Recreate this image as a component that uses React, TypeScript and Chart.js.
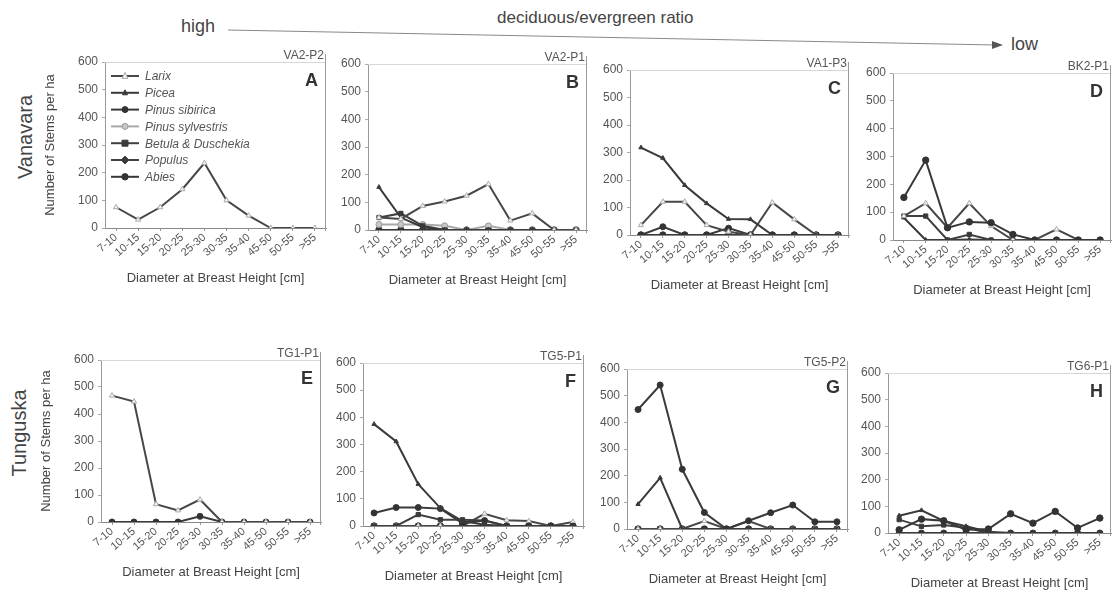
import React, { useEffect, useRef } from 'react';
import { Chart, registerables } from 'chart.js';
Chart.register(...registerables);

const FONT = '"Liberation Sans", Arial, sans-serif';

const categories = ['7-10', '10-15', '15-20', '20-25', '25-30', '30-35', '35-40', '45-50', '50-55', '>55'];
const speciesNames = ['Larix', 'Picea', 'Pinus sibirica', 'Pinus sylvestris', 'Betula & Duschekia', 'Populus', 'Abies'];
const yTicks = [0, 100, 200, 300, 400, 500, 600];

// A: VA2-P2
const aLarix = [75, 30, 75, 140, 235, 100, 45, 0, 0, 0];
// B: VA2-P1
const bLarix = [45, 40, 87, 103, 124, 166, 34, 60, 0, 0];
const bPicea = [155, 45, 10, 0, 0, 0, 0, 0, 0, 0];
const bBetula = [45, 60, 15, 0, 0, 0, 0, 0, 0, 0];
const bSylvestris = [20, 20, 20, 15, 0, 15, 0, 0, 0, 0];
const bAbies = [0, 0, 0, 0, 0, 0, 0, 0, 0, 0];
// C: VA1-P3
const cPicea = [318, 280, 181, 115, 58, 57, 0, 0, 0, 0];
const cLarix = [36, 121, 121, 36, 12, 0, 118, 57, 0, 0];
const cSibirica = [0, 30, 0, 0, 25, 0, 0, 0, 0, 0];
const cAbies = [0, 0, 0, 0, 0, 0, 0, 0, 0, 0];
// D: BK2-P1
const dAbies = [153, 287, 44, 65, 62, 20, 0, 0, 0, 0];
const dLarix = [86, 132, 44, 132, 50, 0, 0, 38, 0, 0];
const dBetula = [86, 86, 0, 20, 0, 0, 0, 0, 0, 0];
const dPicea = [80, 0, 0, 2, 0, 0, 0, 0, 0, 0];
// E: TG1-P1
const eLarix = [468, 446, 66, 43, 83, 0, 0, 0, 0, 0];
const eSibirica = [0, 0, 0, 0, 21, 0, 0, 0, 0, 0];
// F: TG5-P1
const fPicea = [375, 311, 154, 66, 18, 5, 0, 0, 0, 0];
const fSibirica = [48, 68, 68, 64, 10, 20, 0, 0, 0, 0];
const fBetula = [0, 0, 42, 23, 23, 20, 0, 0, 0, 0];
const fLarix = [0, 0, 0, 0, 0, 45, 21, 18, 0, 15];
const fAbies = [0, 0, 0, 0, 0, 0, 0, 0, 0, 0];
// G: TG5-P2
const gSibirica = [448, 540, 224, 62, 0, 31, 61, 90, 27, 27];
const gPicea = [93, 192, 0, 0, 0, 0, 0, 0, 0, 0];
const gLarix = [0, 0, 0, 30, 0, 30, 0, 0, 0, 0];
const gAbies = [0, 0, 0, 0, 0, 0, 0, 0, 0, 0];
// H: TG6-P1
const hAbies = [12, 52, 46, 12, 15, 72, 37, 81, 19, 56];
const hPicea = [65, 85, 45, 25, 5, 0, 0, 0, 0, 0];
const hBetula = [50, 25, 30, 20, 0, 0, 0, 0, 0, 0];
const hSibirica = [0, 0, 0, 0, 0, 0, 0, 0, 0, 0];

type Sty = { line: string; fill: string; stroke: string; shape: string; r: number };
const styles: Record<string, Sty> = {
  'Larix': { line: '#474747', fill: '#f4f4f4', stroke: '#aaa', shape: 'triangle', r: 3 },
  'Picea': { line: '#3a3a3a', fill: '#3a3a3a', stroke: '#3a3a3a', shape: 'triangle', r: 2.5 },
  'Pinus sibirica': { line: '#3a3a3a', fill: '#333', stroke: '#333', shape: 'circle', r: 3 },
  'Pinus sylvestris': { line: '#a8a8a8', fill: '#c8c8c8', stroke: '#999', shape: 'circle', r: 3 },
  'Betula & Duschekia': { line: '#404040', fill: '#3a3a3a', stroke: '#3a3a3a', shape: 'rect', r: 3 },
  'Populus': { line: '#404040', fill: '#3a3a3a', stroke: '#3a3a3a', shape: 'rectRot', r: 3 },
  'Abies': { line: '#383838', fill: '#333', stroke: '#333', shape: 'circle', r: 3.2 },
};

type PanelCfg = {
  id: string; letter: string; L: number; R: number; T: number; B: number;
  yTitle: boolean; legend: boolean; series: [string, number[]][];
};

const panels: PanelCfg[] = [
  { id: 'VA2-P2', letter: 'A', L: 105, R: 327, T: 62, B: 228, yTitle: true, legend: true, series: [['Larix', aLarix]] },
  { id: 'VA2-P1', letter: 'B', L: 368, R: 588, T: 64, B: 230, yTitle: false, legend: false,
    series: [['Larix', bLarix], ['Picea', bPicea], ['Betula & Duschekia', bBetula], ['Pinus sylvestris', bSylvestris], ['Abies', bAbies]] },
  { id: 'VA1-P3', letter: 'C', L: 630, R: 850, T: 70, B: 235, yTitle: false, legend: false,
    series: [['Picea', cPicea], ['Larix', cLarix], ['Pinus sibirica', cSibirica], ['Abies', cAbies]] },
  { id: 'BK2-P1', letter: 'D', L: 893, R: 1112, T: 73, B: 240, yTitle: false, legend: false,
    series: [['Abies', dAbies], ['Larix', dLarix], ['Betula & Duschekia', dBetula], ['Picea', dPicea]] },
  { id: 'TG1-P1', letter: 'E', L: 101, R: 322, T: 360, B: 522, yTitle: true, legend: false,
    series: [['Larix', eLarix], ['Pinus sibirica', eSibirica]] },
  { id: 'TG5-P1', letter: 'F', L: 363, R: 585, T: 363, B: 526, yTitle: false, legend: false,
    series: [['Picea', fPicea], ['Pinus sibirica', fSibirica], ['Betula & Duschekia', fBetula], ['Larix', fLarix], ['Abies', fAbies]] },
  { id: 'TG5-P2', letter: 'G', L: 627, R: 849, T: 369, B: 529, yTitle: false, legend: false,
    series: [['Pinus sibirica', gSibirica], ['Picea', gPicea], ['Larix', gLarix], ['Abies', gAbies]] },
  { id: 'TG6-P1', letter: 'H', L: 888, R: 1112, T: 373, B: 533, yTitle: false, legend: false,
    series: [['Abies', hAbies], ['Picea', hPicea], ['Betula & Duschekia', hBetula], ['Pinus sibirica', hSibirica]] },
];

function drawMarker(ctx: CanvasRenderingContext2D, s: Sty, x: number, y: number) {
  const r = s.r;
  ctx.save();
  ctx.fillStyle = s.fill;
  ctx.strokeStyle = s.stroke;
  ctx.lineWidth = 1;
  ctx.beginPath();
  if (s.shape === 'circle') ctx.arc(x, y, r, 0, Math.PI * 2);
  else if (s.shape === 'triangle') { ctx.moveTo(x, y - r * 1.2); ctx.lineTo(x + r, y + r * 0.8); ctx.lineTo(x - r, y + r * 0.8); ctx.closePath(); }
  else if (s.shape === 'rect') ctx.rect(x - r, y - r, 2 * r, 2 * r);
  else { ctx.moveTo(x, y - r * 1.3); ctx.lineTo(x + r * 1.3, y); ctx.lineTo(x, y + r * 1.3); ctx.lineTo(x - r * 1.3, y); ctx.closePath(); }
  ctx.fill();
  ctx.stroke();
  ctx.restore();
}

function Panel({ cfg }: { cfg: PanelCfg }) {
  const ref = useRef<HTMLCanvasElement>(null);
  const padTop = 18;
  const xH = 60;
  const yW = cfg.yTitle ? 62 : 35;
  const padRight = 4;
  const width = yW + (cfg.R - cfg.L) + padRight;
  const height = padTop + (cfg.B - cfg.T) + xH;

  useEffect(() => {
    if (!ref.current) return;
    const deco = {
      id: 'deco' + cfg.letter,
      beforeDatasetsDraw(chart: any) {
        const { ctx, chartArea: ca } = chart;
        ctx.save();
        ctx.strokeStyle = '#d6d6d6';
        ctx.lineWidth = 1;
        ctx.beginPath();
        ctx.moveTo(ca.left, ca.top + 0.5);
        ctx.lineTo(ca.right, ca.top + 0.5);
        ctx.stroke();
        ctx.strokeStyle = '#9a9a9a';
        ctx.beginPath();
        ctx.moveTo(ca.right - 0.5, ca.top - 8);
        ctx.lineTo(ca.right - 0.5, ca.bottom + 3);
        ctx.stroke();
        ctx.restore();
      },
      afterDraw(chart: any) {
        const { ctx, chartArea: ca } = chart;
        ctx.save();
        ctx.fillStyle = '#555';
        ctx.font = '12px ' + FONT;
        ctx.textAlign = 'right';
        ctx.textBaseline = 'alphabetic';
        ctx.fillText(cfg.id, ca.right - 2, ca.top - 3);
        ctx.fillStyle = '#333';
        ctx.font = 'bold 18px ' + FONT;
        ctx.fillText(cfg.letter, ca.right - 8, ca.top + 24);
        if (cfg.legend) {
          let y = ca.top + 14;
          const x0 = ca.left + 6;
          ctx.textAlign = 'left';
          ctx.textBaseline = 'middle';
          ctx.font = 'italic 12px ' + FONT;
          for (const name of speciesNames) {
            const s = styles[name];
            ctx.strokeStyle = s.line;
            ctx.lineWidth = 2;
            ctx.beginPath();
            ctx.moveTo(x0, y);
            ctx.lineTo(x0 + 28, y);
            ctx.stroke();
            drawMarker(ctx, s, x0 + 14, y);
            ctx.fillStyle = '#555';
            ctx.fillText(name, x0 + 34, y + 1);
            y += 16.8;
          }
        }
        ctx.restore();
      },
    };
    const chart = new Chart(ref.current, {
      type: 'line',
      data: {
        labels: categories,
        datasets: cfg.series.map(([name, values]) => {
          const s = styles[name];
          return {
            label: name,
            data: values,
            borderColor: s.line,
            borderWidth: 2,
            pointStyle: s.shape as any,
            pointRadius: s.r,
            pointBackgroundColor: s.fill,
            pointBorderColor: s.stroke,
            pointBorderWidth: 1,
            tension: 0,
            fill: false,
          };
        }),
      },
      options: {
        responsive: false,
        animation: false,
        events: [],
        layout: { padding: { top: padTop, right: padRight, left: 0, bottom: 0 } },
        plugins: { legend: { display: false }, tooltip: { enabled: false } },
        scales: {
          x: {
            offset: true,
            border: { color: '#888', width: 1 },
            grid: { display: true, drawOnChartArea: false, drawTicks: true, tickLength: 3, color: '#999' },
            ticks: { autoSkip: false, minRotation: 40, maxRotation: 40, padding: 0, color: '#555', font: { family: FONT, size: 11 } },
            title: { display: true, text: 'Diameter at Breast Height [cm]', color: '#444', font: { family: FONT, size: 13 }, padding: { top: 0, bottom: 2 } },
            afterFit: (sc: any) => { sc.height = xH; },
          },
          y: {
            min: 0,
            max: 600,
            afterBuildTicks: (sc: any) => { sc.ticks = yTicks.map((v) => ({ value: v })); },
            border: { color: '#999', width: 1 },
            grid: { display: true, drawOnChartArea: false, drawTicks: true, tickLength: 3, color: '#aaa' },
            ticks: { padding: 4, color: '#555', font: { family: FONT, size: 12 } },
            title: { display: cfg.yTitle, text: 'Number of Stems per ha', color: '#444', font: { family: FONT, size: 13 }, padding: 0 },
            afterFit: (sc: any) => { sc.width = yW; },
          },
        },
      },
      plugins: [deco],
    });
    return () => chart.destroy();
  }, []);

  return (
    <canvas
      ref={ref}
      width={width}
      height={height}
      style={{ position: 'absolute', left: cfg.L - yW, top: cfg.T - padTop, width, height }}
    />
  );
}

export default function App() {
  const text: React.CSSProperties = { position: 'absolute', fontFamily: FONT, color: '#444', whiteSpace: 'nowrap' };
  return (
    <div style={{ position: 'absolute', left: 0, top: 0, width: 1117, height: 592, overflow: 'hidden', background: '#fff' }}>
      <div style={{ ...text, left: 181, top: 16, fontSize: 18 }}>high</div>
      <div style={{ ...text, left: 497, top: 8, fontSize: 17 }}>deciduous/evergreen ratio</div>
      <div style={{ ...text, left: 1011, top: 34, fontSize: 18 }}>low</div>
      <svg width={1117} height={60} style={{ position: 'absolute', left: 0, top: 0 }}>
        <line x1={228} y1={30} x2={995} y2={45} stroke="#888" strokeWidth={1} />
        <polygon points="1003,45 992,41 992,49" fill="#555" />
      </svg>
      <div style={{ ...text, left: 25, top: 137, fontSize: 20, transform: 'translate(-50%, -50%) rotate(-90deg)' }}>Vanavara</div>
      <div style={{ ...text, left: 19, top: 433, fontSize: 20, transform: 'translate(-50%, -50%) rotate(-90deg)' }}>Tunguska</div>
      {panels.map((p) => <Panel key={p.letter} cfg={p} />)}
    </div>
  );
}
